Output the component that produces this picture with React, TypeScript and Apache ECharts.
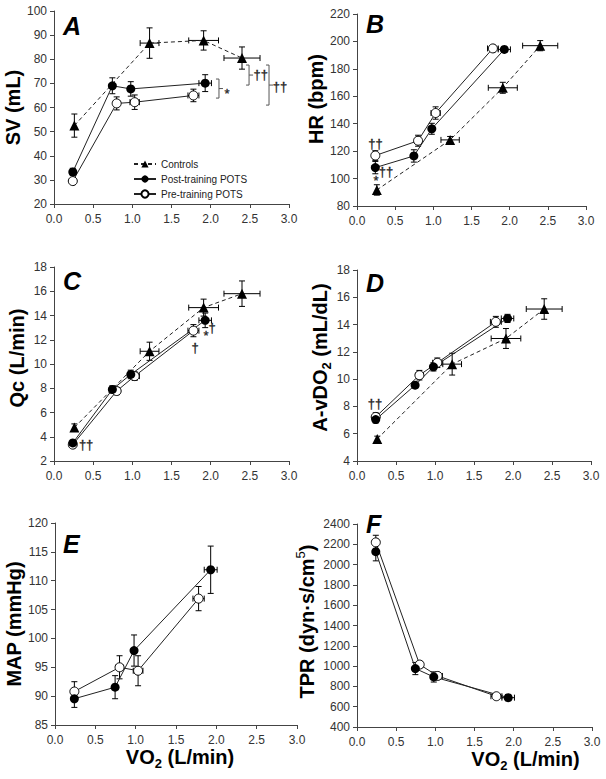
import React, { useEffect, useRef } from "react";
import * as echarts from "echarts";

const FONT = "'Liberation Sans', Arial, sans-serif";

// VO2 (L/min) per group (shared by all panels) and its SE
const vo2Controls = [0.26, 1.22, 1.91, 2.4];
const vo2ControlsSE = [0.02, 0.12, 0.19, 0.23];
const vo2Post = [0.24, 0.745, 0.98, 1.93];
const vo2PostSE = [0.02, 0.03, 0.03, 0.08];
const vo2Pre = [0.24, 0.8, 1.03, 1.78];
const vo2PreSE = [0.02, 0.04, 0.06, 0.07];

// A: SV (mL)
const svControls = [52.5, 86.7, 87.8, 80.5];
const svControlsSE = [4.8, 6.3, 4.0, 4.6];
const svPost = [33.3, 69.0, 67.7, 70.1];
const svPostSE = [1.5, 3.3, 3.0, 3.5];
const svPre = [29.5, 61.7, 62.2, 65.0];
const svPreSE = [1.2, 2.7, 3.0, 2.6];

// B: HR (bpm)
const hrControls = [91.7, 128.2, 166.2, 196.9];
const hrControlsSE = [3.8, 2.5, 4.0, 3.7];
const hrPost = [108.0, 116.5, 136.3, 194.2];
const hrPostSE = [4.5, 4.5, 4.0, 1.8];
const hrPre = [116.8, 127.6, 147.8, 194.9];
const hrPreSE = [3.5, 4.0, 4.5, 1.8];

// C: Qc (L/min)
const qcControls = [4.76, 11.05, 14.65, 15.8];
const qcControlsSE = [0.3, 0.75, 0.7, 1.05];
const qcPost = [3.49, 7.9, 9.14, 13.6];
const qcPostSE = [0.15, 0.3, 0.35, 0.6];
const qcPre = [3.35, 7.77, 9.0, 12.75];
const qcPreSE = [0.15, 0.3, 0.35, 0.5];

// D: A-vDO2 (mL/dL)
const avdControls = [5.62, 11.1, 12.98, 15.14];
const avdControlsSE = [0.2, 0.8, 0.73, 0.75];
const avdPost = [7.04, 9.56, 10.9, 14.45];
const avdPostSE = [0.25, 0.2, 0.3, 0.3];
const avdPre = [7.23, 10.29, 11.2, 14.2];
const avdPreSE = [0.3, 0.35, 0.35, 0.4];

// E: MAP (mmHg)
const mapPost = [89.55, 91.55, 97.9, 111.9];
const mapPostSE = [1.5, 2.0, 2.7, 4.1];
const mapPre = [90.8, 95.0, 94.4, 106.9];
const mapPreSE = [1.7, 2.0, 2.6, 2.1];

// F: TPR (dyn·s/cm5)
const tprPost = [2127, 976, 893, 689];
const tprPostSE = [90, 60, 50, 30];
const tprPre = [2219, 1015, 903, 703];
const tprPreSE = [70, 30, 30, 25];

// significance marks
const svMarkX = [2.21, 2.64, 2.885];
const svMarkY = [66.0, 73.5, 68.9];
const svMarkText = ["*", "††", "††"];
const svBracketX = [2.106, 2.49, 2.745];
const svBracketLow = [63.9, 69.3, 61.0];
const svBracketHigh = [71.8, 77.6, 77.6];

const hrMarkX = [0.243, 0.249, 0.38];
const hrMarkY = [125.9, 98.9, 105.5];
const hrMarkText = ["††", "*", "††"];

const qcMarkX = [0.41, 1.8, 1.94, 2.02];
const qcMarkY = [3.32, 11.32, 12.31, 12.97];
const qcMarkText = ["††", "†", "*", "†"];

const avdMarkX = [0.23];
const avdMarkY = [8.18];
const avdMarkText = ["††"];

const xTicks = { min: 0, max: 3, interval: 0.5 };

const NAME_CTRL = "Controls";
const NAME_POST = "Post-training POTS";
const NAME_PRE = "Pre-training POTS";

const nameRich = {
  a: { fontSize: 20, fontWeight: "bold", fontFamily: FONT, color: "#000", lineHeight: 26 },
  s: { fontSize: 13, fontWeight: "bold", fontFamily: FONT, color: "#000", lineHeight: 13, verticalAlign: "bottom" },
  p: { fontSize: 13, fontWeight: "normal", fontFamily: FONT, color: "#000", lineHeight: 13, verticalAlign: "top" },
};

function grp(name, x, xse, y, yse) {
  return { name, x, xse, y, yse };
}

const panels = [
  {
    grid: { left: 54, top: 11, width: 235, height: 193 },
    y: [20, 100, 10], yName: "{a|SV (mL)}", yGap: 24, yPad: 0,
    letter: "A", lp: [63, 13],
    groups: [grp(NAME_PRE, vo2Pre, vo2PreSE, svPre, svPreSE), grp(NAME_POST, vo2Post, vo2PostSE, svPost, svPostSE), grp(NAME_CTRL, vo2Controls, vo2ControlsSE, svControls, svControlsSE)],
    marks: [svMarkX, svMarkY, svMarkText], brackets: [svBracketX, svBracketLow, svBracketHigh],
  },
  {
    grid: { left: 357, top: 14, width: 229, height: 192 },
    y: [80, 220, 20], yName: "{a|HR (bpm)}", yGap: 24, yPad: 22,
    letter: "B", lp: [366, 11],
    groups: [grp(NAME_PRE, vo2Pre, vo2PreSE, hrPre, hrPreSE), grp(NAME_POST, vo2Post, vo2PostSE, hrPost, hrPostSE), grp(NAME_CTRL, vo2Controls, vo2ControlsSE, hrControls, hrControlsSE)],
    marks: [hrMarkX, hrMarkY, hrMarkText],
  },
  {
    grid: { left: 54, top: 267, width: 235, height: 194 },
    y: [2, 18, 2], yName: "{a|Qc (L/min)}", yGap: 24, yPad: 12,
    letter: "C", lp: [63, 268],
    groups: [grp(NAME_PRE, vo2Pre, vo2PreSE, qcPre, qcPreSE), grp(NAME_POST, vo2Post, vo2PostSE, qcPost, qcPostSE), grp(NAME_CTRL, vo2Controls, vo2ControlsSE, qcControls, qcControlsSE)],
    marks: [qcMarkX, qcMarkY, qcMarkText],
  },
  {
    grid: { left: 357, top: 270, width: 234, height: 191 },
    y: [4, 18, 2], yName: "{a|A-vDO}{s|2}{a| (mL/dL)}", yGap: 24, yPad: 16,
    letter: "D", lp: [366, 270],
    groups: [grp(NAME_PRE, vo2Pre, vo2PreSE, avdPre, avdPreSE), grp(NAME_POST, vo2Post, vo2PostSE, avdPost, avdPostSE), grp(NAME_CTRL, vo2Controls, vo2ControlsSE, avdControls, avdControlsSE)],
    marks: [avdMarkX, avdMarkY, avdMarkText],
  },
  {
    grid: { left: 55, top: 523, width: 242, height: 202 },
    y: [85, 120, 5], yName: "{a|MAP (mmHg)}", yGap: 25, yPad: 0,
    letter: "E", lp: [63, 531],
    xName: "{a|VO}{s|2}{a| (L/min)}", xPad: 8,
    groups: [grp(NAME_PRE, vo2Pre, vo2PreSE, mapPre, mapPreSE), grp(NAME_POST, vo2Post, vo2PostSE, mapPost, mapPostSE)],
  },
  {
    grid: { left: 357, top: 524, width: 235, height: 203 },
    y: [400, 2400, 200], yName: "{a|TPR (dyn·s/cm}{p|5}{a|)}", yGap: 37, yPad: 8,
    letter: "F", lp: [366, 511],
    xName: "{a|VO}{s|2}{a| (L/min)}", xPad: 102,
    groups: [grp(NAME_PRE, vo2Pre, vo2PreSE, tprPre, tprPreSE), grp(NAME_POST, vo2Post, vo2PostSE, tprPost, tprPostSE)],
  },
];

function styleFor(name) {
  if (name === NAME_CTRL)
    return { symbol: "triangle", symbolSize: 10, itemStyle: { color: "#000" }, lineStyle: { color: "#222", width: 1, type: [4, 3] } };
  if (name === NAME_POST)
    return { symbol: "circle", symbolSize: 9, itemStyle: { color: "#000" }, lineStyle: { color: "#222", width: 1 } };
  return { symbol: "circle", symbolSize: 9, itemStyle: { color: "#fff", borderColor: "#000", borderWidth: 1 }, lineStyle: { color: "#222", width: 1 } };
}

function errorBarItem(params, api) {
  const x = api.value(0);
  const y = api.value(1);
  const ey = api.value(2);
  const ex = api.value(3);
  const cap = 3;
  const st = { stroke: "#000", lineWidth: 1 };
  const children = [];
  const t = api.coord([x, y + ey]);
  const b = api.coord([x, y - ey]);
  children.push({ type: "line", shape: { x1: t[0], y1: t[1], x2: b[0], y2: b[1] }, style: st });
  children.push({ type: "line", shape: { x1: t[0] - cap, y1: t[1], x2: t[0] + cap, y2: t[1] }, style: st });
  children.push({ type: "line", shape: { x1: b[0] - cap, y1: b[1], x2: b[0] + cap, y2: b[1] }, style: st });
  const l = api.coord([x - ex, y]);
  const r = api.coord([x + ex, y]);
  if (r[0] - l[0] > 6) {
    children.push({ type: "line", shape: { x1: l[0], y1: l[1], x2: r[0], y2: r[1] }, style: st });
    children.push({ type: "line", shape: { x1: l[0], y1: l[1] - cap, x2: l[0], y2: l[1] + cap }, style: st });
    children.push({ type: "line", shape: { x1: r[0], y1: r[1] - cap, x2: r[0], y2: r[1] + cap }, style: st });
  }
  return { type: "group", children };
}

function buildOption() {
  const grids = [];
  const xAxes = [];
  const yAxes = [];
  const series = [];
  const graphics = [];

  panels.forEach((p, i) => {
    grids.push({ ...p.grid, containLabel: false });
    xAxes.push({
      type: "value", gridIndex: i, ...xTicks,
      axisLine: { show: true, lineStyle: { color: "#444", width: 1 } },
      axisTick: { show: true, length: 4, lineStyle: { color: "#444" } },
      splitLine: { show: false },
      axisLabel: { fontSize: 12, fontFamily: FONT, color: "#333", margin: 9, formatter: (v) => v.toFixed(1) },
      name: p.xName || "",
      nameLocation: "middle",
      nameGap: 10,
      nameTextStyle: { rich: nameRich, padding: [0, 0, 0, p.xPad || 0] },
    });
    yAxes.push({
      type: "value", gridIndex: i, min: p.y[0], max: p.y[1], interval: p.y[2],
      axisLine: { show: true, lineStyle: { color: "#444", width: 1 } },
      axisTick: { show: true, length: 4, lineStyle: { color: "#444" } },
      splitLine: { show: false },
      axisLabel: { fontSize: 12, fontFamily: FONT, color: "#333", margin: 7, formatter: (v) => String(v) },
      name: p.yName,
      nameLocation: "middle",
      nameRotate: 90,
      nameGap: p.yGap,
      nameTextStyle: { rich: nameRich, padding: [0, 0, 0, p.yPad] },
    });

    p.groups.forEach((g) => {
      series.push({
        type: "custom", name: g.name + " SE", xAxisIndex: i, yAxisIndex: i, silent: true, clip: false, z: 2,
        data: g.x.map((x, k) => [x, g.y[k], g.yse[k], g.xse[k]]),
        renderItem: errorBarItem,
      });
      series.push({
        type: "line", name: g.name, xAxisIndex: i, yAxisIndex: i, z: 3, silent: true,
        data: g.x.map((x, k) => [x, g.y[k]]),
        ...styleFor(g.name),
      });
    });

    if (p.brackets) {
      const [bx, bl, bh] = p.brackets;
      series.push({
        type: "custom", name: "brackets" + i, xAxisIndex: i, yAxisIndex: i, silent: true, clip: false, z: 4,
        data: bx.map((x, k) => [x, bl[k], bh[k]]),
        renderItem: (params, api) => {
          const a = api.coord([api.value(0), api.value(2)]);
          const b = api.coord([api.value(0), api.value(1)]);
          const m = (a[1] + b[1]) / 2;
          const st = { stroke: "#555", lineWidth: 1, fill: "none" };
          return {
            type: "group",
            children: [
              { type: "polyline", shape: { points: [[a[0] - 3, a[1]], [a[0], a[1]], [b[0], b[1]], [b[0] - 3, b[1]]] }, style: st },
              { type: "line", shape: { x1: a[0], y1: m, x2: a[0] + 4, y2: m }, style: st },
            ],
          };
        },
      });
    }
    if (p.marks) {
      const [mx, my, mt] = p.marks;
      series.push({
        type: "custom", name: "marks" + i, xAxisIndex: i, yAxisIndex: i, silent: true, clip: false, z: 5,
        data: mx.map((x, k) => [x, my[k]]),
        renderItem: (params, api) => {
          const c = api.coord([api.value(0), api.value(1)]);
          return {
            type: "text", x: c[0], y: c[1],
            style: { text: mt[params.dataIndex], fontSize: 13, fontFamily: FONT, fill: "#222", stroke: "#222", lineWidth: 0.3, align: "center", verticalAlign: "middle" },
          };
        },
      });
    }

    graphics.push({
      type: "text", left: p.lp[0], top: p.lp[1],
      style: { text: p.letter, fontSize: 25, fontWeight: "bold", fontStyle: "italic", fontFamily: FONT, fill: "#000" },
    });
  });

  return {
    animation: false,
    backgroundColor: "#fff",
    grid: grids,
    xAxis: xAxes,
    yAxis: yAxes,
    series,
    graphic: graphics,
    legend: {
      data: [NAME_CTRL, NAME_POST, NAME_PRE],
      orient: "vertical",
      left: 128,
      top: 154,
      itemWidth: 22,
      itemHeight: 9,
      itemGap: 5,
      selectedMode: false,
      textStyle: { fontSize: 10, fontFamily: FONT, color: "#222" },
    },
  };
}

export default function App() {
  const ref = useRef(null);
  useEffect(() => {
    const chart = echarts.init(ref.current, null, { renderer: "svg" });
    chart.setOption(buildOption());
    return () => chart.dispose();
  }, []);
  return (
    <div
      ref={ref}
      style={{ position: "fixed", left: 0, top: 0, width: 606, height: 779, background: "#fff" }}
    />
  );
}
